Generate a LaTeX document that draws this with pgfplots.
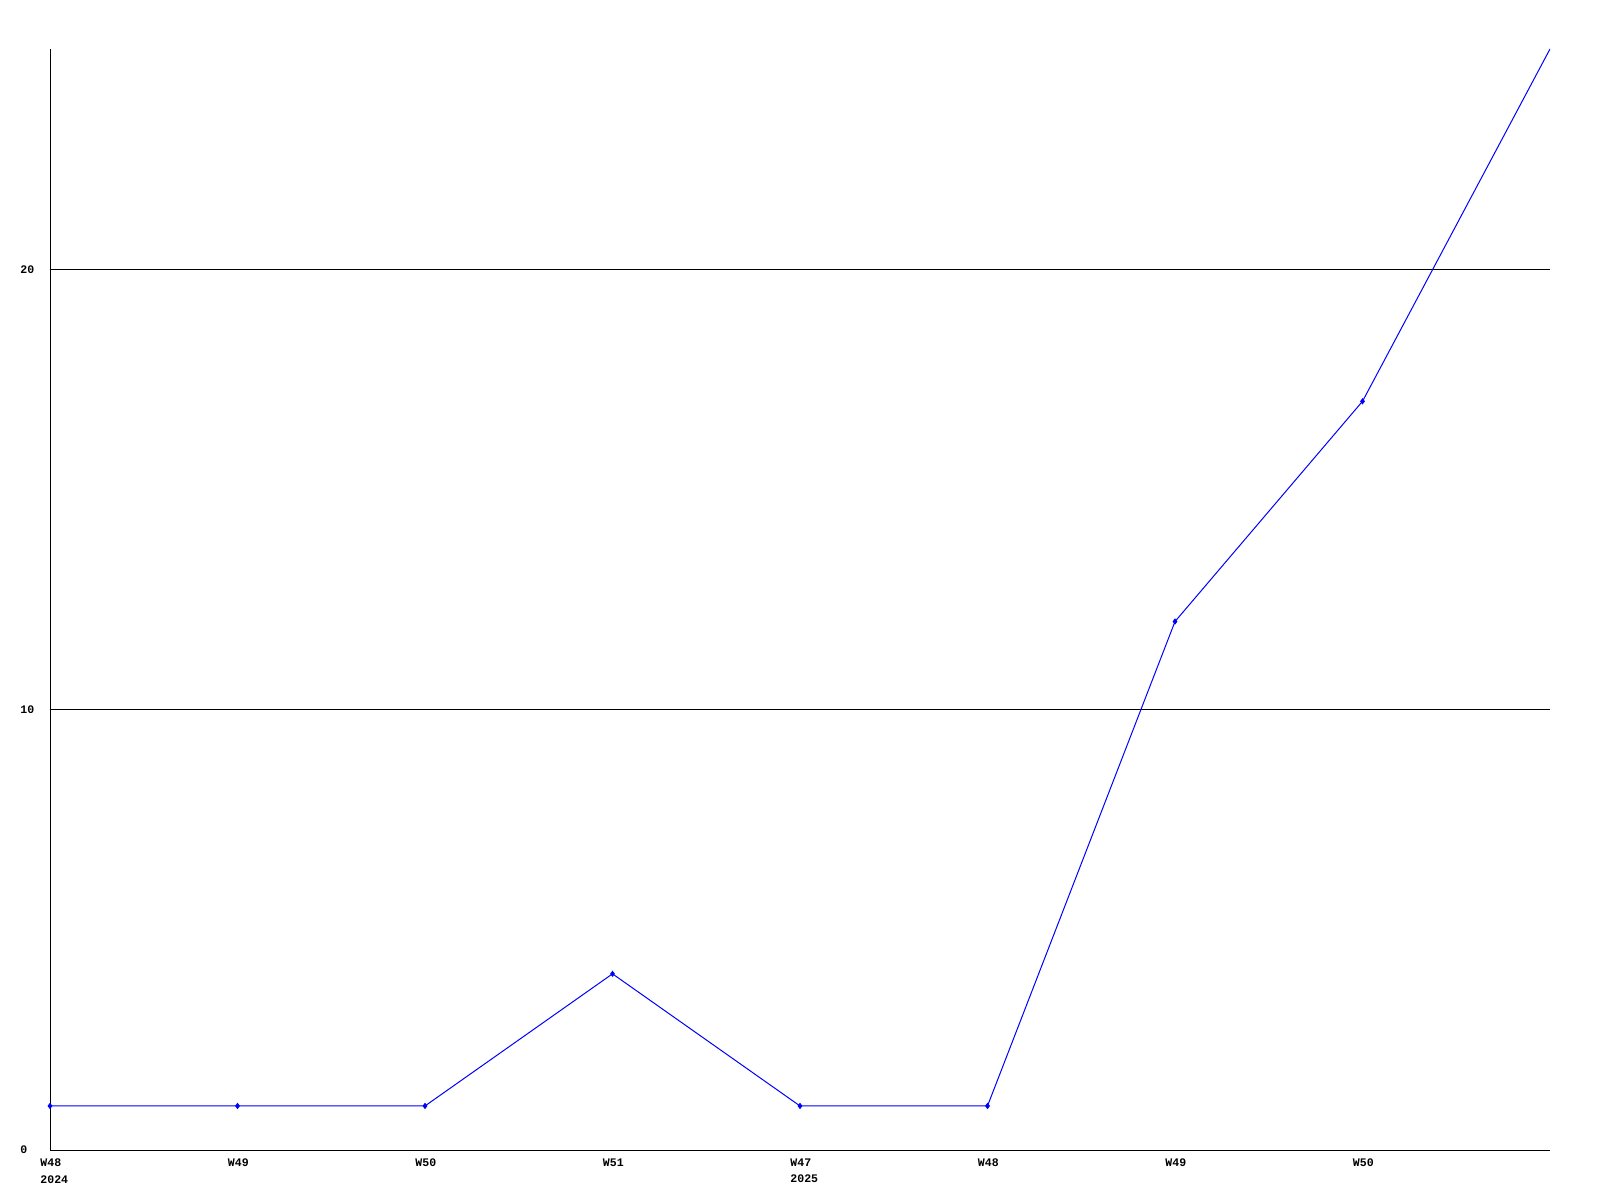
\documentclass[border=0pt]{standalone}
\usepackage{pgfplots}
\pgfplotsset{compat=1.18}
\usepackage{fontspec}
\setmainfont{Liberation Mono}
\begin{document}
\begin{tikzpicture}
\path (0,0) rectangle (800bp,600bp);
\begin{axis}[
  at={(25bp,25bp)}, anchor=south west,
  scale only axis, width=750bp, height=550.5bp,
  xmin=0, xmax=8, ymin=0, ymax=25,
  axis x line=bottom, axis y line=left,
  axis line style={-, line width=0.5bp},
  major tick length=0,
  xtick={0,...,7},
  xticklabels={{W48\\2024},W49,W50,W51,{W47\\2025},W48,W49,W50},
  ytick={0,10,20},
  ymajorgrids, grid style={black, line width=0.5bp},
  font=\fontsize{5.8}{8.5}\selectfont\bfseries,
  /pgf/number format/assume math mode=true,
  xticklabel style={align=left, anchor=north west, inner sep=0pt, xshift=-5bp, yshift=-4bp},
  yticklabel style={anchor=west, inner sep=0pt, xshift=-15bp},
  clip=true,
]
\addplot[blue, line width=0.5bp, mark=diamond*, mark size=1.2bp, mark indices={1,...,8}, mark options={solid, fill=blue}]
  coordinates {(0,1) (1,1) (2,1) (3,4) (4,1) (5,1) (6,12) (7,17) (8,25)};
\end{axis}
\end{tikzpicture}
\end{document}
